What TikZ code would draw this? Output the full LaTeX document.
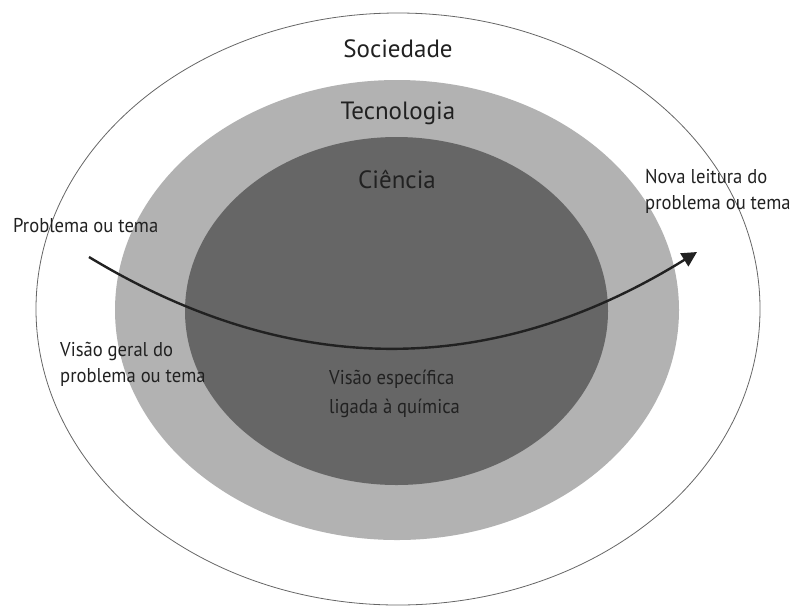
\documentclass[tikz,border=0pt]{standalone}
\usepackage{fontspec}
\setmainfont{PT Sans}
\newfontfamily\narrowsans[FakeStretch=0.93]{PT Sans}
\usetikzlibrary{arrows.meta,shapes.geometric}
\definecolor{lightg}{gray}{0.70}
\definecolor{darkg}{gray}{0.40}
\definecolor{ink}{gray}{0.13}
\definecolor{rimg}{gray}{0.40}
\begin{document}
\begin{tikzpicture}[x=1pt,y=-1pt,
  zone/.style={ellipse, inner sep=0pt, outer sep=0pt},
  big/.style={font=\fontsize{25}{30}\selectfont, text=ink, inner sep=0pt},
  small/.style={font=\narrowsans\fontsize{20}{26}\selectfont, text=ink, inner sep=0pt, align=left},
  flow/.style={line width=2.4pt, draw=ink, -{Triangle[length=15pt,width=15pt]}}]
\useasboundingbox (0,0) rectangle (799,606);
\node[zone, draw=rimg, line width=0.8pt, fill=white, minimum width=724pt, minimum height=592pt] (soc) at (398,309) {};
\node[zone, fill=lightg, minimum width=564pt, minimum height=460pt] (tecz) at (397,310) {};
\node[zone, fill=darkg, minimum width=423pt, minimum height=348pt] (ciez) at (396.5,311) {};
\coordinate (start) at (89,257);
\coordinate (end) at (697,252);
\draw[flow] (start) .. controls (292,380) and (494,378) .. (end);
\node[big, anchor=base] (socl) at (398,57) {Sociedade};
\node[big, anchor=base] (tecl) at (398,119) {Tecnologia};
\node[big, anchor=base] (ciel) at (397,188) {Ciência};
\node[small, anchor=base west] (prob) at (13,232) {Problema ou tema};
\node[small, anchor=base west] (nova) at (645,209) {Nova leitura do\\problema ou tema};
\node[small, anchor=base west] (geral) at (60,382) {Visão geral do\\problema ou tema};
\node[small, anchor=base west] (espec) at (329,413) {Visão específica\\[3pt]ligada à química};
\end{tikzpicture}
\end{document}
